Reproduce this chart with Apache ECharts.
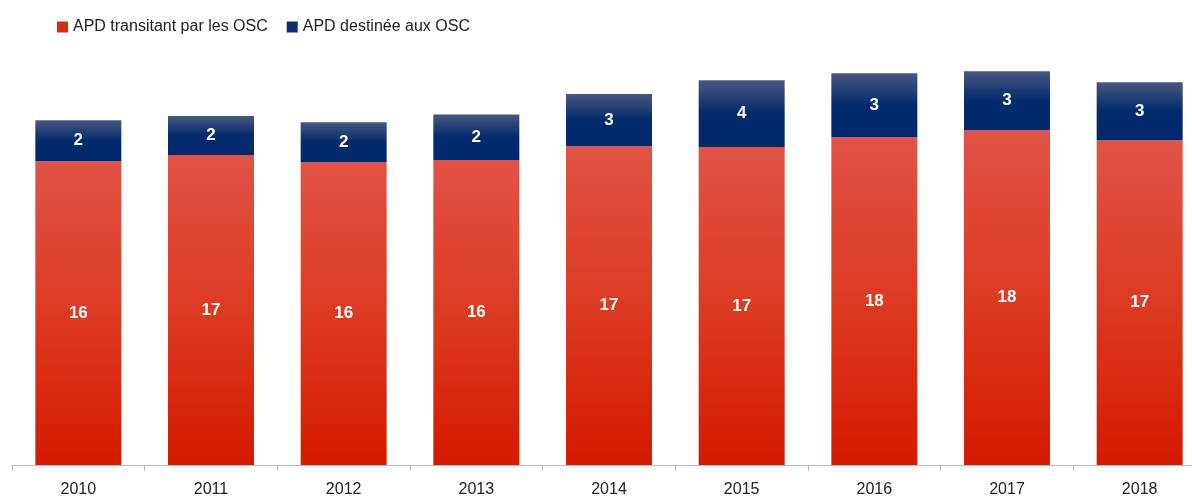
<!DOCTYPE html>
<html>
<head>
<meta charset="utf-8">
<script src="https://cdn.jsdelivr.net/npm/echarts@6/dist/echarts.min.js"></script>
<style>
  html, body { margin: 0; padding: 0; background: #fff; }
  #chart { width: 1192px; height: 497px; }
</style>
</head>
<body>
<div id="chart"></div>
<script>
const years = ['2010', '2011', '2012', '2013', '2014', '2015', '2016', '2017', '2018'];
const transitant = [16.34, 16.67, 16.29, 16.4, 17.15, 17.1, 17.63, 18.01, 17.47];
const destinee = [2.2, 2.1, 2.15, 2.45, 2.8, 3.6, 3.44, 3.17, 3.12];

const chart = echarts.init(document.getElementById('chart'));

const labelStyle = {
  show: true,
  position: 'inside',
  color: '#fff',
  fontWeight: 'bold',
  fontSize: 17,
  fontFamily: 'Liberation Sans Narrow, Arial Narrow, sans-serif',
  formatter: p => Math.round(p.value)
};

const option = {
  animation: false,
  legend: {
    left: 52,
    top: 14,
    itemWidth: 11,
    itemHeight: 11,
    itemGap: 19,
    textStyle: { fontSize: 16, color: '#222', fontFamily: 'Liberation Sans, Arial, sans-serif' },
    data: [
      { name: 'APD transitant par les OSC', icon: 'rect', itemStyle: { color: '#d92a12' } },
      { name: 'APD destinée aux OSC', icon: 'rect', itemStyle: { color: '#0a2d6e' } }
    ]
  },
  grid: { left: 12, top: 56, width: 1194, bottom: 32, outerBoundsMode: 'none' },
  xAxis: {
    type: 'category',
    data: years,
    axisLine: { lineStyle: { color: '#bbb' } },
    axisTick: { show: true, length: 6, lineStyle: { color: '#bbb' } },
    axisLabel: { color: '#222', fontSize: 16, margin: 17, fontFamily: 'Liberation Sans, Arial, sans-serif' }
  },
  yAxis: {
    type: 'value',
    min: 0,
    max: 22,
    show: false,
    splitLine: { show: false }
  },
  series: [
    {
      name: 'APD transitant par les OSC',
      type: 'bar',
      stack: 'total',
      barWidth: 86,
      data: transitant,
      itemStyle: {
        color: new echarts.graphic.LinearGradient(0, 0, 0, 1, [
          { offset: 0, color: '#e15346' },
          { offset: 0.5, color: '#dc3a22' },
          { offset: 1, color: '#d41a00' }
        ])
      },
      label: labelStyle
    },
    {
      name: 'APD destinée aux OSC',
      type: 'bar',
      stack: 'total',
      barWidth: 86,
      data: destinee,
      itemStyle: {
        color: new echarts.graphic.LinearGradient(0, 0, 0, 1, [
          { offset: 0, color: '#48577f' },
          { offset: 0.5, color: '#022a6c' },
          { offset: 1, color: '#00286a' }
        ])
      },
      label: labelStyle
    }
  ]
};

chart.setOption(option);
window.addEventListener('resize', function () {
  chart.resize();
});
</script>
</body>
</html>
